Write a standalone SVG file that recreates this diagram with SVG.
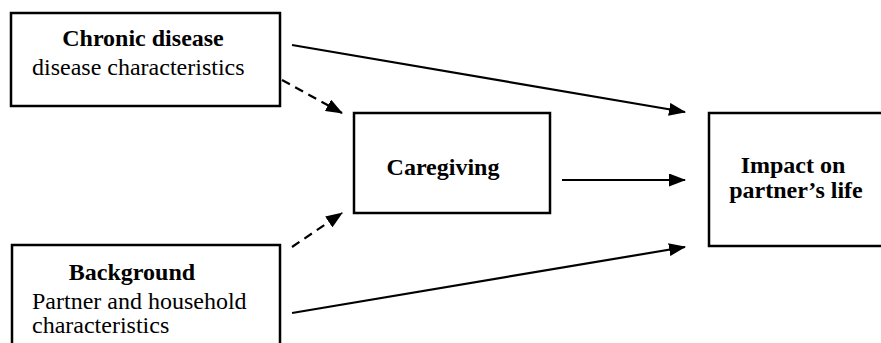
<svg xmlns="http://www.w3.org/2000/svg" width="881" height="343" viewBox="0 0 881 343">
<defs>
<marker id="ah" markerWidth="17" markerHeight="13" refX="16" refY="6.5" orient="auto" markerUnits="userSpaceOnUse">
<path d="M0,0 L17,6.5 L0,13 Z" fill="#000"/>
</marker>
<style>
.box{fill:#fff;stroke:#000;stroke-width:2.5}
.t{font-family:"Liberation Serif","Times New Roman",serif;font-size:24px;fill:#000}
.b{font-weight:bold}
.c{stroke:#000;stroke-width:2.2;fill:none}
.d{stroke-dasharray:9,6}
</style>
</defs>
<rect width="881" height="343" fill="#fff"/>
<g id="chronic">
<rect class="box" x="11" y="13" width="269" height="93"/>
<text class="t b" x="143" y="46" text-anchor="middle">Chronic disease</text>
<text class="t" x="32" y="75">disease characteristics</text>
</g>
<g id="background">
<rect class="box" x="12" y="245" width="268" height="110"/>
<text class="t b" x="132" y="280" text-anchor="middle">Background</text>
<text class="t" x="32" y="309">Partner and household</text>
<text class="t" x="32" y="333">characteristics</text>
</g>
<g id="caregiving">
<rect class="box" x="354" y="113" width="196" height="100"/>
<text class="t b" x="443" y="175" text-anchor="middle">Caregiving</text>
</g>
<g id="impact">
<rect class="box" x="709" y="113" width="190" height="133"/>
<text class="t b" x="793" y="173" text-anchor="middle">Impact on</text>
<text class="t b" x="796" y="198" text-anchor="middle">partner’s life</text>
</g>
<g id="connectors">
<line class="c" x1="292" y1="45" x2="685" y2="112" marker-end="url(#ah)"/>
<line class="c d" x1="282" y1="80" x2="342" y2="113" marker-end="url(#ah)"/>
<line class="c" x1="562" y1="180" x2="685" y2="180" marker-end="url(#ah)"/>
<line class="c d" x1="292" y1="247" x2="342" y2="213" marker-end="url(#ah)"/>
<line class="c" x1="292" y1="313" x2="685" y2="247" marker-end="url(#ah)"/>
</g>
</svg>
